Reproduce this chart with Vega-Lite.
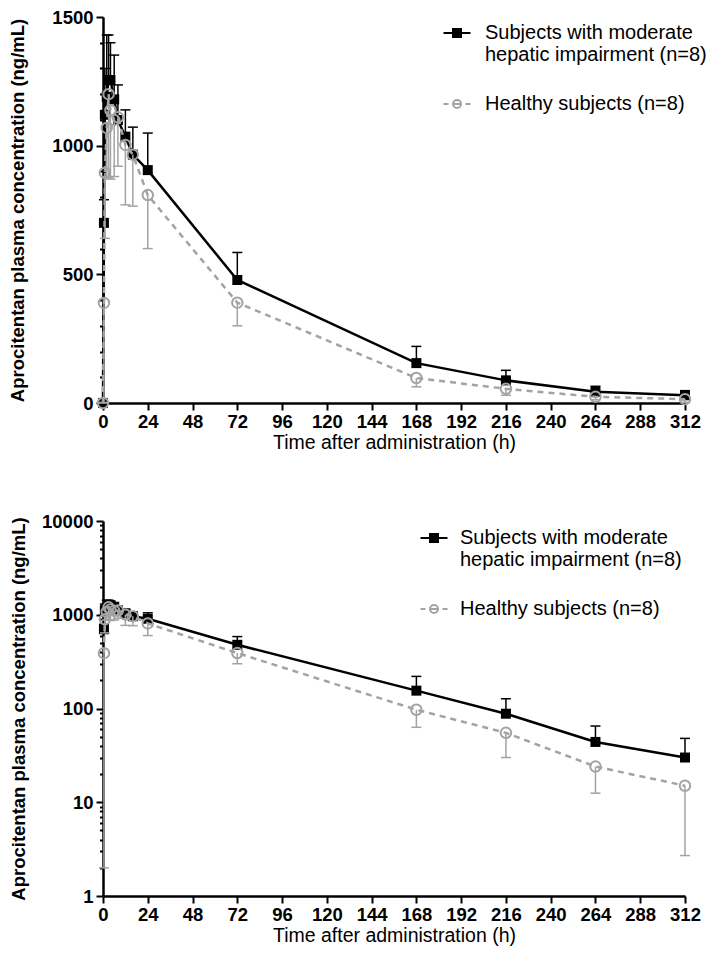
{
  "$schema": "https://vega.github.io/schema/vega-lite/v6.json",
  "padding": {"left": 8, "top": 8, "right": 3, "bottom": 3},
  "background": "white",
  "config": {
    "font": "Liberation Sans",
    "view": {"stroke": null},
    "axis": {
      "domainColor": "black", "domainWidth": 2.5, "tickColor": "black", "tickWidth": 2,
      "labelColor": "black", "labelFont": "Liberation Sans", "labelFontSize": 18.5, "labelFontWeight": "bold",
      "titleColor": "black", "titleFont": "Liberation Sans", "grid": false
    },
    "axisX": {"tickSize": 7, "labelPadding": 2, "titleFontSize": 19.5, "titleFontWeight": "normal", "titlePadding": 3, "labelFlush": false},
    "axisY": {"tickSize": 7, "labelPadding": 3, "titleFontSize": 18.5, "titleFontWeight": "bold"}
  },
  "datasets": {
    "pk": [
      {"time": 0, "group": "Hepatic", "conc": 0, "bar": 0},
      {"time": 0.5, "group": "Hepatic", "conc": 700, "bar": 790},
      {"time": 1, "group": "Hepatic", "conc": 1120, "bar": 1300},
      {"time": 2, "group": "Hepatic", "conc": 1190, "bar": 1430},
      {"time": 3, "group": "Hepatic", "conc": 1255, "bar": 1430},
      {"time": 4, "group": "Hepatic", "conc": 1255, "bar": 1400},
      {"time": 6, "group": "Hepatic", "conc": 1180, "bar": 1352},
      {"time": 8, "group": "Hepatic", "conc": 1100, "bar": 1236},
      {"time": 12, "group": "Hepatic", "conc": 1035, "bar": 1139},
      {"time": 16, "group": "Hepatic", "conc": 965, "bar": 1072},
      {"time": 24, "group": "Hepatic", "conc": 905, "bar": 1049},
      {"time": 72, "group": "Hepatic", "conc": 478, "bar": 585},
      {"time": 168, "group": "Hepatic", "conc": 155, "bar": 220},
      {"time": 216, "group": "Hepatic", "conc": 88, "bar": 127},
      {"time": 264, "group": "Hepatic", "conc": 44, "bar": 65},
      {"time": 312, "group": "Hepatic", "conc": 30, "bar": 48},
      {"time": 0, "group": "Healthy", "conc": 0, "bar": 0},
      {"time": 0.5, "group": "Healthy", "conc": 389, "bar": 2},
      {"time": 1, "group": "Healthy", "conc": 894, "bar": 640},
      {"time": 2, "group": "Healthy", "conc": 1069, "bar": 880},
      {"time": 3, "group": "Healthy", "conc": 1200, "bar": 875},
      {"time": 4, "group": "Healthy", "conc": 1138, "bar": 870},
      {"time": 6, "group": "Healthy", "conc": 1100, "bar": 880},
      {"time": 8, "group": "Healthy", "conc": 1110, "bar": 920},
      {"time": 12, "group": "Healthy", "conc": 1003, "bar": 770},
      {"time": 16, "group": "Healthy", "conc": 965, "bar": 765},
      {"time": 24, "group": "Healthy", "conc": 808, "bar": 600},
      {"time": 72, "group": "Healthy", "conc": 390, "bar": 300},
      {"time": 168, "group": "Healthy", "conc": 97, "bar": 63},
      {"time": 216, "group": "Healthy", "conc": 55, "bar": 30},
      {"time": 264, "group": "Healthy", "conc": 24, "bar": 12.5},
      {"time": 312, "group": "Healthy", "conc": 15, "bar": 2.7}
    ]
  },
  "data": {"name": "pk"},
  "spacing": 60,
  "resolve": {
    "scale": {"shape": "independent", "stroke": "independent", "fill": "independent"},
    "legend": {"shape": "independent", "stroke": "independent", "fill": "independent"}
  },
  "vconcat": [
    {
      "width": 582, "height": 386,
      "resolve": {"axis": {"y": "independent"}},
      "layer": [
        {
          "transform": [{"filter": "false"}],
          "mark": {"type": "point"},
          "encoding": {
            "x": {"field": "time", "type": "quantitative", "scale": {"domain": [0, 312], "nice": false},
                  "axis": {"values": [0, 24, 48, 72, 96, 120, 144, 168, 192, 216, 240, 264, 288, 312], "title": "Time after administration (h)"}},
            "y": {"field": "conc", "type": "quantitative", "scale": {"domain": [0, 1500], "nice": false},
                  "axis": {"orient": "left", "values": [100, 200, 300, 400, 600, 700, 800, 900, 1100, 1200, 1300, 1400], "labels": false, "tickSize": 3.5, "domain": false, "title": null}},
            "shape": {"field": "group", "type": "nominal", "scale": {"domain": ["Hepatic", "Healthy"], "range": ["M-1.35,0H1.35M-0.4,-0.4H0.4V0.4H-0.4Z", "M-1.35,0H-0.85M0.85,0H1.35M-0.35,0H0.35M0.4,0A0.4,0.4 0 1,1 -0.4,0A0.4,0.4 0 1,1 0.4,0"]},
                      "legend": {"orient": "none", "legendX": 343, "legendY": 5, "title": null, "padding": 0, "symbolSize": 400, "symbolStrokeWidth": 2, "symbolOpacity": 1, "labelFontSize": 20, "labelFont": "Liberation Sans", "labelColor": "black", "labelLimit": 400, "labelOffset": 17, "rowPadding": 28,
                                 "labelExpr": "datum.value == 'Hepatic' ? ['Subjects with moderate', 'hepatic impairment (n=8)'] : 'Healthy subjects (n=8)'"}},
            "stroke": {"field": "group", "type": "nominal", "scale": {"domain": ["Hepatic", "Healthy"], "range": ["black", "#a3a3a3"]}},
            "fill": {"field": "group", "type": "nominal", "scale": {"domain": ["Hepatic", "Healthy"], "range": ["black", "transparent"]}}
          }
        },
        {
          "transform": [{"filter": "datum.group == 'Hepatic'"}],
          "mark": {"type": "rule", "color": "black", "strokeWidth": 1.5},
          "encoding": {
            "x": {"field": "time", "type": "quantitative"},
            "y": {"field": "conc", "type": "quantitative", "axis": null},
            "y2": {"field": "bar"}
          }
        },
        {
          "transform": [{"filter": "datum.group == 'Hepatic'"}],
          "mark": {"type": "tick", "orient": "horizontal", "color": "black", "size": 10, "thickness": 1.5, "opacity": 1},
          "encoding": {
            "x": {"field": "time", "type": "quantitative"},
            "y": {"field": "bar", "type": "quantitative", "axis": null}
          }
        },
        {
          "transform": [{"filter": "datum.group == 'Hepatic'"}],
          "mark": {"type": "line", "color": "black", "strokeWidth": 2.5},
          "encoding": {
            "x": {"field": "time", "type": "quantitative"},
            "y": {"field": "conc", "type": "quantitative",
                  "axis": {"orient": "left", "values": [0, 500, 1000, 1500], "format": "d", "title": "Aprocitentan plasma concentration (ng/mL)", "titlePadding": 24}}
          }
        },
        {
          "transform": [{"filter": "datum.group == 'Hepatic'"}],
          "mark": {"type": "square", "color": "black", "filled": true, "size": 100, "opacity": 1},
          "encoding": {
            "x": {"field": "time", "type": "quantitative"},
            "y": {"field": "conc", "type": "quantitative", "axis": null}
          }
        },
        {
          "transform": [{"filter": "datum.group == 'Healthy'"}],
          "mark": {"type": "rule", "color": "#a3a3a3", "strokeWidth": 1.5},
          "encoding": {
            "x": {"field": "time", "type": "quantitative"},
            "y": {"field": "conc", "type": "quantitative", "axis": null},
            "y2": {"field": "bar"}
          }
        },
        {
          "transform": [{"filter": "datum.group == 'Healthy'"}],
          "mark": {"type": "tick", "orient": "horizontal", "color": "#a3a3a3", "size": 10, "thickness": 1.5, "opacity": 1},
          "encoding": {
            "x": {"field": "time", "type": "quantitative"},
            "y": {"field": "bar", "type": "quantitative", "axis": null}
          }
        },
        {
          "transform": [{"filter": "datum.group == 'Healthy'"}],
          "mark": {"type": "line", "color": "#a3a3a3", "strokeWidth": 2.5, "strokeDash": [6, 5]},
          "encoding": {
            "x": {"field": "time", "type": "quantitative"},
            "y": {"field": "conc", "type": "quantitative", "axis": null}
          }
        },
        {
          "transform": [{"filter": "datum.group == 'Healthy'"}],
          "mark": {"type": "point", "shape": "circle", "filled": false, "color": "#a3a3a3", "strokeWidth": 2, "size": 110, "opacity": 1},
          "encoding": {
            "x": {"field": "time", "type": "quantitative"},
            "y": {"field": "conc", "type": "quantitative", "axis": null}
          }
        }
      ]
    },
    {
      "width": 582, "height": 375,
      "transform": [{"filter": "datum.conc > 0"}],
      "resolve": {"axis": {"y": "independent"}},
      "layer": [
        {
          "transform": [{"filter": "false"}],
          "mark": {"type": "point"},
          "encoding": {
            "x": {"field": "time", "type": "quantitative", "scale": {"domain": [0, 312], "nice": false},
                  "axis": {"values": [0, 24, 48, 72, 96, 120, 144, 168, 192, 216, 240, 264, 288, 312], "title": "Time after administration (h)"}},
            "y": {"field": "conc", "type": "quantitative", "scale": {"type": "log", "domain": [1, 10000], "nice": false},
                  "axis": {"orient": "left", "values": [2, 3, 4, 5, 6, 7, 8, 9, 20, 30, 40, 50, 60, 70, 80, 90, 200, 300, 400, 500, 600, 700, 800, 900, 2000, 3000, 4000, 5000, 6000, 7000, 8000, 9000], "labels": false, "tickSize": 3.5, "domain": false, "title": null}},
            "shape": {"field": "group", "type": "nominal", "scale": {"domain": ["Hepatic", "Healthy"], "range": ["M-1.35,0H1.35M-0.4,-0.4H0.4V0.4H-0.4Z", "M-1.35,0H-0.85M0.85,0H1.35M-0.35,0H0.35M0.4,0A0.4,0.4 0 1,1 -0.4,0A0.4,0.4 0 1,1 0.4,0"]},
                      "legend": {"orient": "none", "legendX": 320, "legendY": 6, "title": null, "padding": 0, "symbolSize": 400, "symbolStrokeWidth": 2, "symbolOpacity": 1, "labelFontSize": 20, "labelFont": "Liberation Sans", "labelColor": "black", "labelLimit": 400, "labelOffset": 15, "rowPadding": 28,
                                 "labelExpr": "datum.value == 'Hepatic' ? ['Subjects with moderate', 'hepatic impairment  (n=8)'] : 'Healthy subjects (n=8)'"}},
            "stroke": {"field": "group", "type": "nominal", "scale": {"domain": ["Hepatic", "Healthy"], "range": ["black", "#a3a3a3"]}},
            "fill": {"field": "group", "type": "nominal", "scale": {"domain": ["Hepatic", "Healthy"], "range": ["black", "transparent"]}}
          }
        },
        {
          "transform": [{"filter": "datum.group == 'Hepatic'"}],
          "mark": {"type": "rule", "color": "black", "strokeWidth": 1.5},
          "encoding": {
            "x": {"field": "time", "type": "quantitative"},
            "y": {"field": "conc", "type": "quantitative", "axis": null},
            "y2": {"field": "bar"}
          }
        },
        {
          "transform": [{"filter": "datum.group == 'Hepatic'"}],
          "mark": {"type": "tick", "orient": "horizontal", "color": "black", "size": 10, "thickness": 1.5, "opacity": 1},
          "encoding": {
            "x": {"field": "time", "type": "quantitative"},
            "y": {"field": "bar", "type": "quantitative", "axis": null}
          }
        },
        {
          "transform": [{"filter": "datum.group == 'Hepatic'"}],
          "mark": {"type": "line", "color": "black", "strokeWidth": 2.5},
          "encoding": {
            "x": {"field": "time", "type": "quantitative"},
            "y": {"field": "conc", "type": "quantitative",
                  "axis": {"orient": "left", "values": [1, 10, 100, 1000, 10000], "format": "d", "title": "Aprocitentan plasma concentration (ng/mL)", "titlePadding": 13}}
          }
        },
        {
          "transform": [{"filter": "datum.group == 'Hepatic'"}],
          "mark": {"type": "square", "color": "black", "filled": true, "size": 100, "opacity": 1},
          "encoding": {
            "x": {"field": "time", "type": "quantitative"},
            "y": {"field": "conc", "type": "quantitative", "axis": null}
          }
        },
        {
          "transform": [{"filter": "datum.group == 'Healthy'"}],
          "mark": {"type": "rule", "color": "#a3a3a3", "strokeWidth": 1.5},
          "encoding": {
            "x": {"field": "time", "type": "quantitative"},
            "y": {"field": "conc", "type": "quantitative", "axis": null},
            "y2": {"field": "bar"}
          }
        },
        {
          "transform": [{"filter": "datum.group == 'Healthy'"}],
          "mark": {"type": "tick", "orient": "horizontal", "color": "#a3a3a3", "size": 10, "thickness": 1.5, "opacity": 1},
          "encoding": {
            "x": {"field": "time", "type": "quantitative"},
            "y": {"field": "bar", "type": "quantitative", "axis": null}
          }
        },
        {
          "transform": [{"filter": "datum.group == 'Healthy'"}],
          "mark": {"type": "line", "color": "#a3a3a3", "strokeWidth": 2.5, "strokeDash": [6, 5]},
          "encoding": {
            "x": {"field": "time", "type": "quantitative"},
            "y": {"field": "conc", "type": "quantitative", "axis": null}
          }
        },
        {
          "transform": [{"filter": "datum.group == 'Healthy'"}],
          "mark": {"type": "point", "shape": "circle", "filled": false, "color": "#a3a3a3", "strokeWidth": 2, "size": 110, "opacity": 1},
          "encoding": {
            "x": {"field": "time", "type": "quantitative"},
            "y": {"field": "conc", "type": "quantitative", "axis": null}
          }
        }
      ]
    }
  ]
}
